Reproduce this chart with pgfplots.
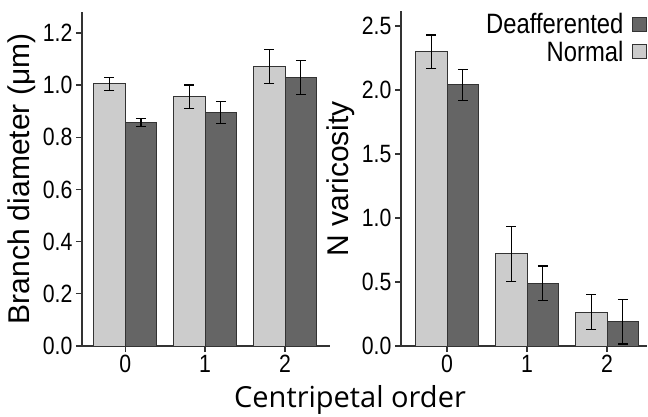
\documentclass[border=0pt]{standalone}
\usepackage{fontspec}
\setmainfont{Liberation Sans}
\newfontfamily\labfont{Open Sans}
\usepackage{graphicx}
\usepackage{pgfplots}
\pgfplotsset{compat=1.18}

\definecolor{lightbar}{HTML}{CCCCCC}
\definecolor{darkbar}{HTML}{656565}
\definecolor{axisgray}{HTML}{333333}

\newcommand{\sq}[1]{\scalebox{0.85}[1]{#1}}

\pgfplotsset{
  barstyle/.style={draw=axisgray, line width=1pt,
    error bars/y dir=both, error bars/y explicit,
    error bars/error bar style={line width=1.2pt, black},
    error bars/error mark options={rotate=90, mark size=5pt, line width=1.2pt, black}},
  panel/.style={
  scale only axis, axis lines=left,
  axis line style={-, line width=1.3pt, axisgray},
  tick align=outside, major tick length=6pt,
  tick style={line width=1.3pt, axisgray},
  ymin=0, xtick={0,1,2},
  ybar=0pt, bar width=31.5pt,
  /pgf/number format/assume math mode=true,
  tick label style={font=\fontsize{25}{25}\selectfont},
  xticklabel={\sq{\pgfmathprintnumber{\tick}}},
  yticklabel={\sq{\pgfmathprintnumber[fixed,fixed zerofill,precision=1]{\tick}}},
  ylabel style={font=\fontsize{30}{30}\selectfont},
}}

\begin{document}
\begin{tikzpicture}
\useasboundingbox (0,0) rectangle (648pt,416pt);

\begin{axis}[panel, at={(82pt,70pt)}, anchor=south west,
  width=248pt, height=334pt, xmin=-0.54, xmax=2.5625, ymax=1.28,
  ytick={0,0.2,...,1.2}, ylabel={Branch diameter (μm)}]
\addplot[barstyle, fill=lightbar] coordinates {(0,1.005) +- (0,0.025) (1,0.955) +- (0,0.045) (2,1.07) +- (0,0.065)};
\addplot[barstyle, fill=darkbar] coordinates {(0,0.857) +- (0,0.015) (1,0.895) +- (0,0.042) (2,1.03) +- (0,0.065)};
\end{axis}

\begin{axis}[panel, at={(401pt,70pt)}, anchor=south west,
  width=246pt, height=335pt, xmin=-0.575, xmax=2.5, ymax=2.617,
  ytick={0,0.5,...,2.5}, ylabel={N varicosity},
  legend plot pos=right, reverse legend, legend cell align=right,
  legend style={at={(rel axis cs:1,1)}, anchor=north east, draw=none, fill=none,
    font=\fontsize{28}{28}\selectfont, row sep=2pt, inner sep=0pt},
  legend image code/.code={\path[draw=none, fill=none] (0pt,0pt) rectangle (1pt,1pt); \draw[#1, line width=0.8pt] (7pt,-7pt) rectangle (21pt,7pt);}]
\addplot[barstyle, fill=lightbar] coordinates {(0,2.30) +- (0,0.13) (1,0.72) +- (0,0.215) (2,0.265) +- (0,0.135)};
\addplot[barstyle, fill=darkbar] coordinates {(0,2.04) +- (0,0.12) (1,0.49) +- (0,0.135) (2,0.19) +- (0,0.175)};
\legend{\sq{Normal}, \sq{Deafferented}}
\end{axis}

\node[font=\labfont\fontsize{29}{29}\selectfont, anchor=base] at (350pt,9pt) {Centripetal order};
\end{tikzpicture}
\end{document}
